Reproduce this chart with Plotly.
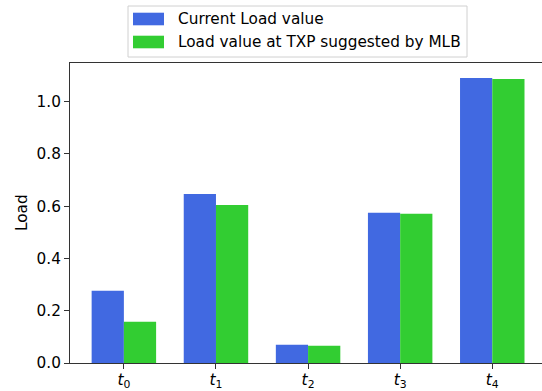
import plotly.graph_objects as go

# Data
categories = ["t0", "t1", "t2", "t3", "t4"]
tick_labels = ["<i>t</i><sub>0</sub>", "<i>t</i><sub>1</sub>", "<i>t</i><sub>2</sub>",
               "<i>t</i><sub>3</sub>", "<i>t</i><sub>4</sub>"]
current_load = [0.276, 0.647, 0.070, 0.575, 1.091]
mlb_load = [0.158, 0.605, 0.066, 0.571, 1.087]
series_names = ["Current Load value", "Load value at TXP suggested by MLB"]
series_colors = ["#4169E1", "#32CD32"]

W, H = 542, 391
ML, MR, MT, MB = 70, 0, 63, 28
PW, PH = W - ML - MR, H - MT - MB

FONT = "DejaVu Sans"
FS = 15.3
AX = "#333333"

fig = go.Figure()
for name, vals, col in zip(series_names, [current_load, mlb_load], series_colors):
    fig.add_trace(go.Bar(x=categories, y=vals, name=name, marker=dict(color=col, line_width=0),
                         showlegend=False))


def px_x(p):
    return (p - ML) / PW


def px_y(p):
    return (H - MB - p) / PH


# Legend drawn as a framed box with wide colour swatches
shapes = [dict(type="rect", xref="paper", yref="paper",
               x0=px_x(128), x1=px_x(467), y0=px_y(57), y1=px_y(6),
               line=dict(color="#d0d0d0", width=1), fillcolor="rgba(255,255,255,0.8)")]
annotations = []
rows = [(12.7, 25.3), (35.7, 48.3)]
for (top, bot), name, col in zip(rows, series_names, series_colors):
    shapes.append(dict(type="rect", xref="paper", yref="paper",
                       x0=px_x(133), x1=px_x(164), y0=px_y(bot), y1=px_y(top),
                       line_width=0, fillcolor=col))
    annotations.append(dict(text=name, xref="paper", yref="paper",
                            x=px_x(176), y=px_y((top + bot) / 2), xanchor="left", yanchor="middle",
                            showarrow=False, font=dict(family=FONT, size=FS, color="#000000")))

# y-axis title
annotations.append(dict(text="Load", xref="paper", yref="paper", x=px_x(22), y=0.5,
                        textangle=-90, xanchor="center", yanchor="middle", showarrow=False,
                        font=dict(family=FONT, size=FS, color="#000000")))

fig.update_layout(
    width=W, height=H,
    margin=dict(l=ML, r=MR, t=MT, b=MB, pad=0, autoexpand=False),
    paper_bgcolor="white", plot_bgcolor="white",
    barmode="group", bargap=0.3, bargroupgap=0,
    font=dict(family=FONT, size=FS, color="#000000"),
    shapes=shapes, annotations=annotations,
    xaxis=dict(range=[-0.585, 4.54], tickmode="array", tickvals=categories, ticktext=tick_labels,
               showline=True, linecolor=AX, linewidth=1, mirror=True, automargin=False,
               ticks="outside", ticklen=5, tickcolor=AX, showgrid=False, zeroline=False,
               ticklabelstandoff=-3, tickfont=dict(family=FONT, size=15.5)),
    yaxis=dict(range=[0, 1.148], tickvals=[0, 0.2, 0.4, 0.6, 0.8, 1.0],
               ticktext=["0.0", "0.2", "0.4", "0.6", "0.8", "1.0"], automargin=False,
               showline=True, linecolor=AX, linewidth=1,
               ticks="outside", ticklen=5, tickcolor=AX, showgrid=False, zeroline=False,
               tickfont=dict(family=FONT, size=FS)),
)

fig.write_html("out.html")
